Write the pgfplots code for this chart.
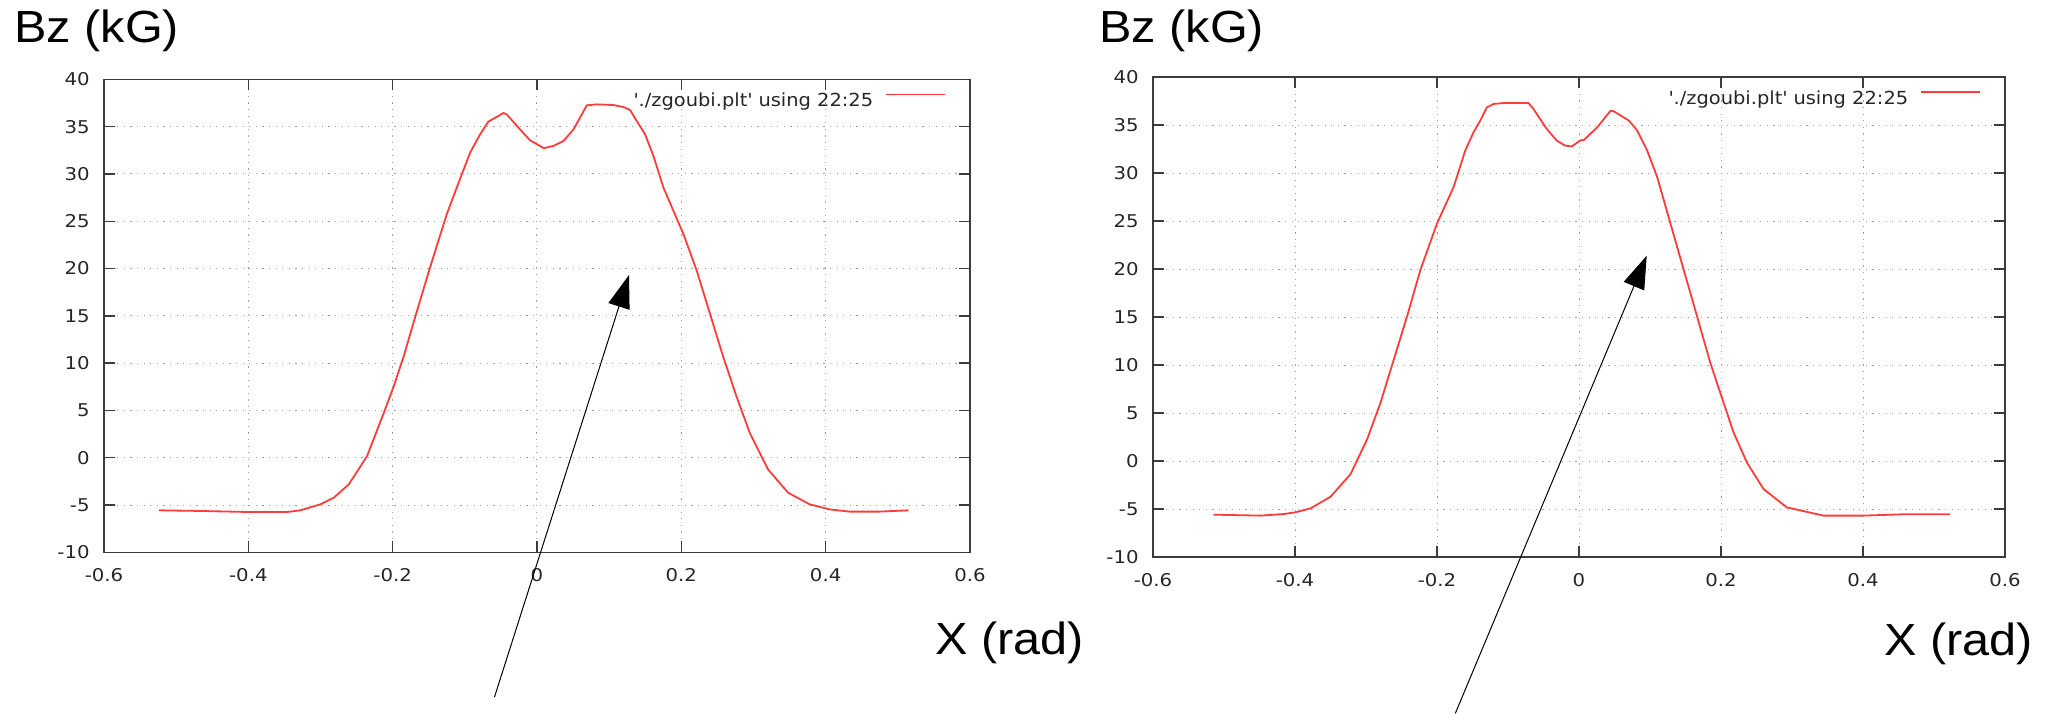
\documentclass[border=0pt]{standalone}
\usepackage{fontspec}
\setmainfont{DejaVu Sans}
\newfontfamily\tickfont{DejaVu Sans}[FakeStretch=1.12]
\newfontfamily\legfont{DejaVu Sans}[FakeStretch=1.08]
\newfontfamily\lib{Liberation Sans}[FakeStretch=1.08]
\usepackage{pgfplots}
\pgfplotsset{compat=1.18}
\usetikzlibrary{arrows.meta}
\definecolor{curve}{RGB}{255,60,60}
\definecolor{frame}{RGB}{60,60,60}

\pgfplotstableread{
x y
-0.5235 -5.56
-0.466 -5.63
-0.400 -5.74
-0.346 -5.74
-0.328 -5.56
-0.300 -4.93
-0.2816 -4.23
-0.2608 -2.82
-0.2355 0.16
-0.2124 4.72
-0.1986 7.53
-0.1848 10.68
-0.1687 14.9
-0.148 20.16
-0.1249 25.77
-0.1041 29.98
-0.0926 32.26
-0.0788 34.19
-0.0673 35.53
-0.0535 36.12
-0.0465 36.44
-0.042 36.3
-0.0258 34.9
-0.0097 33.56
0.004 32.96
0.0092 32.72
0.023 32.96
0.0369 33.49
0.0507 34.72
0.0691 37.25
0.083 37.35
0.106 37.28
0.1198 37.07
0.129 36.75
0.1382 35.6
0.1498 34.19
0.1613 31.91
0.1751 28.58
0.1889 26.12
0.2028 23.67
0.2212 19.81
0.2396 15.25
0.258 10.68
0.2765 6.47
0.2949 2.61
0.3203 -1.25
0.3479 -3.70
0.3779 -4.93
0.4055 -5.46
0.4332 -5.70
0.4747 -5.70
0.5147 -5.56
}\leftdata

\pgfplotstableread{
x y
-0.5148 -5.59
-0.4482 -5.69
-0.4155 -5.52
-0.400 -5.35
-0.378 -4.93
-0.3499 -3.72
-0.3218 -1.37
-0.2984 2.26
-0.2796 6.06
-0.2609 10.56
-0.2422 15.06
-0.2234 19.9
-0.200 24.74
-0.1766 28.54
-0.1602 32.34
-0.1485 34.25
-0.1391 35.46
-0.1297 36.84
-0.1204 37.19
-0.1063 37.29
-0.0712 37.29
-0.0642 36.67
-0.0454 34.59
-0.0314 33.38
-0.0197 32.86
-0.0103 32.76
0.0014 33.38
0.007 33.45
0.0258 34.77
0.0445 36.49
0.0492 36.42
0.0703 35.46
0.082 34.42
0.096 32.34
0.1101 29.58
0.1288 24.74
0.1475 19.9
0.1663 15.06
0.185 10.21
0.2037 6.06
0.2178 2.95
0.2365 -0.16
0.260 -2.93
0.2927 -4.83
0.3443 -5.69
0.4005 -5.69
0.4567 -5.55
0.5222 -5.55
}\rightdata

\pgfplotsset{
  gp/.style={
    scale only axis,
    anchor=south west,
    xmin=-0.6, xmax=0.6, ymin=-10, ymax=40,
    xtick={-0.6,-0.4,-0.2,0,0.2,0.4,0.6},
    xticklabels={-0.6,-0.4,-0.2,0,0.2,0.4,0.6},
    ytick={-10,-5,0,5,10,15,20,25,30,35,40},
    yticklabels={-10,-5,0,5,10,15,20,25,30,35,40},
    xtick pos=both, ytick pos=both,
    tick align=inside,
    major tick length=5.5pt,
    tick style={frame, line width=0.7pt},
    axis line style={frame, line width=0.7pt},
    grid=major,
    major grid style={gray!75, line width=0.5pt, dash pattern=on 0.6pt off 2.7pt},
    ticklabel style={font=\tickfont\fontsize{8.8}{10}\selectfont, text=black!85, inner sep=0pt},
    xticklabel style={anchor=north, yshift=-8pt},
    yticklabel style={anchor=east, xshift=-7pt},
    legend style={draw=none, fill=none, at={(1,1)}, anchor=north east,
      xshift=-12pt, yshift=-6.7pt, inner sep=0pt, outer sep=0pt,
      font=\legfont\fontsize{9}{10}\selectfont, text=black!85,
      nodes={inner sep=0pt}, column sep=6pt},
    legend cell align=right,
    legend plot pos=right,
    legend image code/.code={\draw[#1] (0pt,3.3pt) -- (29.5pt,3.3pt);},
    clip=false,
  }
}

\begin{document}
\begin{tikzpicture}
\useasboundingbox (0,0) rectangle (1023pt,357pt);

\begin{axis}[gp, at={(52pt,80.85pt)}, width=433pt, height=236.5pt]
\addplot[curve, line width=0.9pt] table[x=x,y=y] {\leftdata};
\addlegendentry{\textquotesingle./zgoubi.plt\textquotesingle{} using 22:25}
\end{axis}

\begin{axis}[gp, at={(576.5pt,78.5pt)}, width=426pt, height=240pt]
\addplot[curve, line width=0.9pt] table[x=x,y=y] {\rightdata};
\addlegendentry{\textquotesingle./zgoubi.plt\textquotesingle{} using 22:25}
\end{axis}

\node[anchor=base west, inner sep=0pt, font=\lib\fontsize{22.5}{26}\selectfont] at (7pt,335.5pt) {Bz (kG)};
\node[anchor=base west, inner sep=0pt, font=\lib\fontsize{22.5}{26}\selectfont] at (549.5pt,335.5pt) {Bz (kG)};
\node[anchor=base west, inner sep=0pt, font=\lib\fontsize{22.5}{26}\selectfont] at (467.5pt,30pt) {X (rad)};
\node[anchor=base west, inner sep=0pt, font=\lib\fontsize{22.5}{26}\selectfont] at (942pt,29.5pt) {X (rad)};

\draw[black, line width=0.5pt, -{Triangle[length=16.5pt,width=11pt]}] (247.25pt,8.5pt) -- (314.5pt,219.5pt);
\draw[black, line width=0.5pt, -{Triangle[length=16.5pt,width=11pt]}] (727.65pt,0.3pt) -- (823.35pt,229.15pt);
\end{tikzpicture}
\end{document}
